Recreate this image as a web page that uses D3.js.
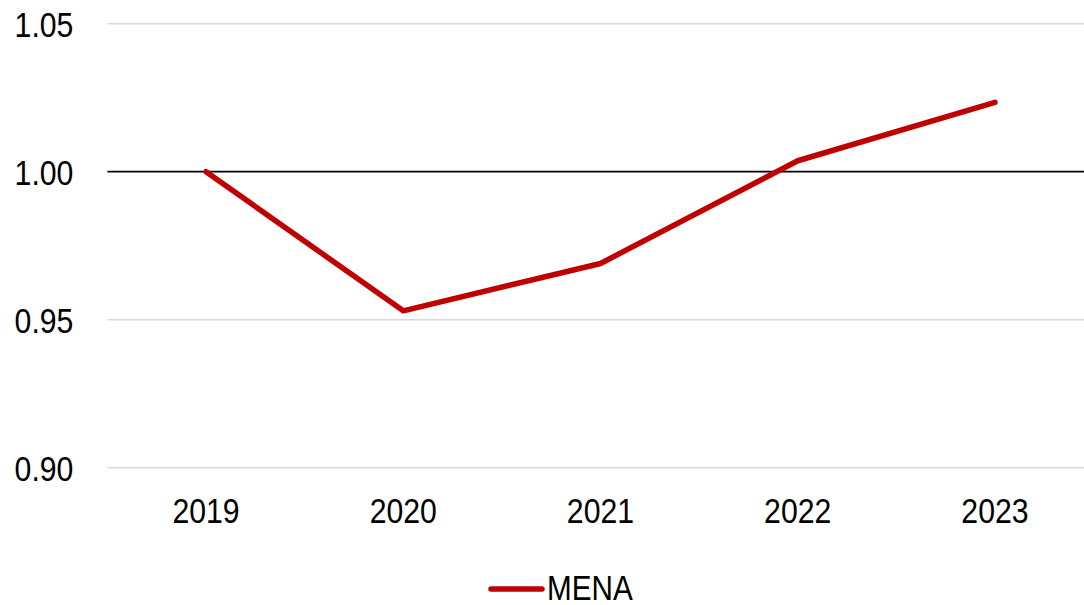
<!DOCTYPE html>
<html>
<head>
<meta charset="utf-8">
<script src="https://cdn.jsdelivr.net/npm/d3@7"></script>
<style>
html,body{margin:0;padding:0;background:#fff;}
svg{display:block;}
text{font-family:"Liberation Sans Narrow","Arial Narrow","Liberation Sans",Arial,sans-serif;fill:#000;}
</style>
</head>
<body>
<svg id="chart" width="1084" height="605"></svg>
<script>
const categories = ["2019","2020","2021","2022","2023"];
const seriesName = "MENA";
const values = [1.000, 0.953, 0.969, 1.0037, 1.0234];
const yTicks = [0.90, 0.95, 1.00, 1.05];

(function () {
const svg = d3.select("#chart");
const pLeft = 107.4, pRight = 1093.6, pTop = 23.7, pBottom = 467.7;
const sx = 0.84; // condensed look (Arial Narrow-like)

const x = d3.scaleBand().domain(categories).range([pLeft, pRight]);
const y = d3.scaleLinear().domain([0.90, 1.05]).range([pBottom, pTop]);

// gridlines
svg.append("g").selectAll("line").data(yTicks.filter(d => d !== 1.00)).join("line")
  .attr("x1", pLeft).attr("x2", pRight)
  .attr("y1", d => y(d)).attr("y2", d => y(d))
  .attr("stroke", "#d9d9d9").attr("stroke-width", 1.5);

// baseline at 1.00
svg.append("line")
  .attr("x1", pLeft).attr("x2", pRight)
  .attr("y1", y(1.00)).attr("y2", y(1.00))
  .attr("stroke", "#000").attr("stroke-width", 1.8);

// y axis labels
const yAxis = d3.axisLeft(y).tickValues(yTicks).tickFormat(d3.format(".2f")).tickSize(0).tickPadding(34);
const gy = svg.append("g").attr("transform", `translate(${pLeft},0)`).call(yAxis);
gy.attr("font-family", null).attr("font-size", null);
gy.select(".domain").remove();
gy.selectAll("text").attr("font-size", 36).attr("fill", "#000").attr("dy", "0.35em")
  .attr("x", -34 / sx).attr("transform", `scale(${sx},1)`);

// x axis labels
const xAxis = d3.axisBottom(x).tickSize(0).tickPadding(30);
const gx = svg.append("g").attr("transform", `translate(0,${pBottom})`).call(xAxis);
gx.attr("font-family", null).attr("font-size", null);
gx.select(".domain").remove();
gx.selectAll("text").attr("font-size", 36).attr("fill", "#000").attr("transform", `scale(${sx},1)`);

// line
const line = d3.line()
  .x((d, i) => x(categories[i]) + x.bandwidth() / 2)
  .y(d => y(d));
svg.append("path").datum(values)
  .attr("d", line)
  .attr("fill", "none")
  .attr("stroke", "#c00000")
  .attr("stroke-width", 5.5)
  .attr("stroke-linecap", "round")
  .attr("stroke-linejoin", "round");

// legend
const lsx = 0.86;
const lg = svg.append("g").attr("transform", "translate(483,589)");
lg.append("line").attr("x1", 8).attr("x2", 59).attr("y1", 0).attr("y2", 0)
  .attr("stroke", "#c00000").attr("stroke-width", 5.5).attr("stroke-linecap", "round");
lg.append("text").attr("x", 64 / lsx).attr("y", 10.5).attr("font-size", 34.5)
  .attr("transform", `scale(${lsx},1)`).text(seriesName);
})();
</script>
</body>
</html>
